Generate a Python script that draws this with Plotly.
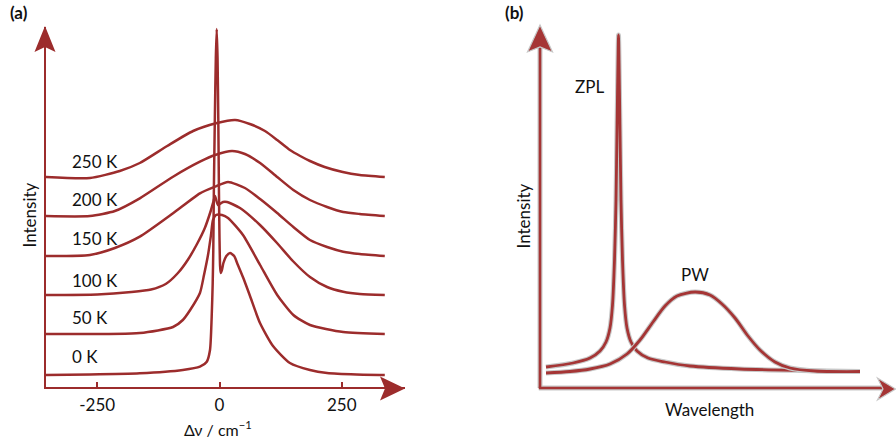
import plotly.graph_objects as go

# ---------------- data: panel (a)  (Δν in cm^-1, intensity in arbitrary units) ----------------
T0_x = [-357, -265, -163, -75, -40, -26, -19.4, -16, -13.9, -12.7, -11.5, -9.5, -7.5, -5.7, -4.0,
        -2.5, -1.2, 0, 1.2, 2.5, 5, 8, 14, 21.5, 30, 36, 48.7, 62.4, 82.8, 109.4, 144, 185, 220, 280, 338]
T0_y = [13, 13.5, 14.7, 18, 21.3, 26.3, 38, 71, 105, 138, 200, 270, 330, 359, 330,
        270, 200, 150, 122, 115, 118, 125, 132, 135, 132, 125, 110, 92, 65, 42, 25, 18, 15, 13.5, 13]

T50_x = [-357, -163, -95, -75, -60, -40, -31.7, -23.5, -17.4, -13.3, -7.2, 5.1, 17.4, 48, 83,
         118, 151, 185, 253, 338]
T50_y = [54, 55, 61, 68, 78, 95, 113, 133, 153, 168, 173, 173, 170, 153, 123,
         93, 73, 63, 56, 54]

T100_x = [-357, -250, -180, -140, -110, -85, -65, -46, -30, -18, -12.7, -9.2, -3.1, 7.2, 15.3,
          41.9, 82.8, 117.6, 150, 185, 220, 253, 287, 338]
T100_y = [93, 93.5, 96, 98.5, 104, 115, 128, 144, 160, 177, 186, 192, 183, 186, 186,
          180, 163, 145, 127, 111, 101, 96.3, 94, 93]

T150_x = [-357, -265, -214, -163, -95, -40, -9.2, 17.4, 52, 83, 118, 151, 185, 220, 253, 287, 338]
T150_y = [132, 133, 140, 151.3, 174.7, 194.7, 201.3, 206, 200, 189, 175, 161, 148, 141, 136.3, 134, 132]

T200_x = [-357, -265, -214, -163, -95, -40, -9, 25.6, 52, 83, 118, 151, 185, 220, 253, 287, 338]
T200_y = [172, 172, 177, 189.7, 211.3, 226.3, 233, 237, 234, 225, 211, 198, 188, 181, 176, 174, 172]

T250_x = [-357, -265, -204, -163, -107, -54, -5, 32, 62, 93, 118, 144, 165, 185, 215, 252, 287, 338]
T250_y = [211, 210, 217, 225, 242, 257, 265, 268, 264, 257, 248, 238, 232, 227, 221, 216, 213, 211]

temp_labels = ["0 K", "50 K", "100 K", "150 K", "200 K", "250 K"]
temp_label_y = [32, 71, 108, 150, 189, 227]
temp_label_x = -305

x_tickvals = [-250, 0, 250]
x_ticktext = ["-250", "0", "250"]

# ---------------- data: panel (b)  (wavelength / intensity, arbitrary units) ----------------
ZPL_x = [6, 33, 50, 60, 66, 70, 72.5, 74.5, 76, 77, 78, 78.5, 79, 80, 81, 82.5, 84.5, 87, 91, 97,
         108, 125, 150, 200, 260, 320]
ZPL_y = [21, 25, 30, 37, 46, 60, 83, 128, 188, 258, 328, 353, 328, 258, 188, 128, 83, 60, 46, 37,
         30, 26, 22, 19, 17.5, 16.5]

PW_x = [6, 30, 50, 70, 87, 100, 113, 125, 137, 155, 170, 182, 195, 208, 220, 235, 250, 275, 320]
PW_y = [15, 16.5, 19, 24, 34, 48, 66, 82, 92, 96, 93, 84, 70, 52, 38, 26, 20, 17, 16.5]

# ---------------- style ----------------
RED_A = "#9c2c2c"
RED_B = "#a53535"
HALO = "#c8c8c8"
FONT = "Lato"
W, H = 896, 443


def P(px, py):
    return px / W, 1 - py / H


def path(points):
    pts = [P(a, b) for a, b in points]
    return "M " + " L ".join(f"{x:.5f},{y:.5f}" for x, y in pts) + " Z"


fig = go.Figure()

for xs, ys in [(T0_x, T0_y), (T50_x, T50_y), (T100_x, T100_y),
               (T150_x, T150_y), (T200_x, T200_y), (T250_x, T250_y)]:
    fig.add_trace(go.Scatter(x=xs, y=ys, mode="lines", xaxis="x", yaxis="y",
                             line=dict(color=RED_A, width=2.5, shape="spline", smoothing=0.6),
                             hoverinfo="skip", showlegend=False))

for xs, ys in [(ZPL_x, ZPL_y), (PW_x, PW_y)]:
    fig.add_trace(go.Scatter(x=xs, y=ys, mode="lines", xaxis="x2", yaxis="y2",
                             line=dict(color=HALO, width=5, shape="spline", smoothing=0.8),
                             hoverinfo="skip", showlegend=False))
    fig.add_trace(go.Scatter(x=xs, y=ys, mode="lines", xaxis="x2", yaxis="y2",
                             line=dict(color=RED_B, width=2.8, shape="spline", smoothing=0.8),
                             hoverinfo="skip", showlegend=False))

shapes = []
# panel (a) arrowheads
shapes.append(dict(type="path", xref="paper", yref="paper",
                   path=path([(45, 26), (34.5, 52), (45, 47), (55.5, 52)]),
                   fillcolor=RED_A, line=dict(width=0)))
shapes.append(dict(type="path", xref="paper", yref="paper",
                   path=path([(405, 388.5), (380, 376.5), (385, 388.5), (380, 400.5)]),
                   fillcolor=RED_A, line=dict(width=0)))
# panel (b) axes with halo
for col, wd in [(HALO, 5), (RED_B, 2.6)]:
    x0, y0 = P(540, 388)
    x1, y1 = P(540, 45)
    shapes.append(dict(type="line", xref="paper", yref="paper", x0=x0, y0=y0, x1=x0, y1=y1,
                       line=dict(color=col, width=wd)))
    x2, _ = P(882, 388)
    shapes.append(dict(type="line", xref="paper", yref="paper", x0=x0 - 1.2 / W, y0=y0, x1=x2, y1=y0,
                       line=dict(color=col, width=wd)))
shapes.append(dict(type="path", xref="paper", yref="paper",
                   path=path([(540, 25), (527.5, 52), (540, 47), (552.5, 52)]),
                   fillcolor=RED_B, line=dict(color=HALO, width=1.2)))
shapes.append(dict(type="path", xref="paper", yref="paper",
                   path=path([(895.5, 389), (877.5, 378), (883, 389), (877.5, 400)]),
                   fillcolor=RED_B, line=dict(color=HALO, width=1.2)))

annotations = []


def ann(text, px, py, size=17, angle=0, bold=False):
    x, y = P(px, py)
    annotations.append(dict(text=f"<b>{text}</b>" if bold else text, x=x, y=y, xref="paper",
                            yref="paper", showarrow=False, xanchor="center", yanchor="middle",
                            textangle=angle, font=dict(family=FONT, size=size, color="#111111")))


ann("(a)", 19, 12, bold=True)
ann("(b)", 514, 12, bold=True)
ann("Intensity", 28.5, 215, angle=-90)
ann("Intensity", 522.5, 216, angle=-90)
ann("Wavelength", 709, 409.5)
ann("ZPL", 589, 87)
ann("PW", 695, 274)
ann("Δν / cm<sup>−1</sup>", 218, 428, size=16)

for lab, ly in zip(temp_labels, temp_label_y):
    annotations.append(dict(text=lab, x=temp_label_x, y=ly, xref="x", yref="y", showarrow=False,
                            xanchor="left", yanchor="middle",
                            font=dict(family=FONT, size=17, color="#111111")))

fig.update_layout(
    width=W, height=H, autosize=False,
    margin=dict(l=0, r=0, t=0, b=0),
    paper_bgcolor="white", plot_bgcolor="white",
    showlegend=False,
    font=dict(family=FONT, size=17, color="#111111"),
    xaxis=dict(domain=[46 / W, 405 / W], range=[(46 - 219.5) / 0.489, (405 - 219.5) / 0.489],
               anchor="y", showgrid=False, zeroline=False, showline=True, linecolor=RED_A,
               linewidth=2.5, ticks="inside", ticklen=5, tickwidth=2, tickcolor=RED_A,
               tickvals=x_tickvals, ticktext=x_ticktext, ticklabelstandoff=1,
               tickfont=dict(family=FONT, size=17, color="#111111")),
    yaxis=dict(domain=[(443 - 386.75) / H, (443 - 27) / H], range=[1.25, 361], anchor="x",
               showgrid=False, zeroline=False, showline=True, linecolor=RED_A, linewidth=2.5,
               showticklabels=False, ticks=""),
    xaxis2=dict(domain=[540 / W, 1.0], range=[0, 356], anchor="y2", showgrid=False,
                zeroline=False, showline=False, showticklabels=False, ticks=""),
    yaxis2=dict(domain=[55 / H, 418 / H], range=[0, 363], anchor="x2", showgrid=False,
                zeroline=False, showline=False, showticklabels=False, ticks=""),
    shapes=shapes,
    annotations=annotations,
)

fig.write_html("out.html", config={"displayModeBar": False, "staticPlot": True},
               post_script="document.body.style.margin='0px';document.body.style.padding='0px';"
                           "document.documentElement.style.overflow='hidden';")
